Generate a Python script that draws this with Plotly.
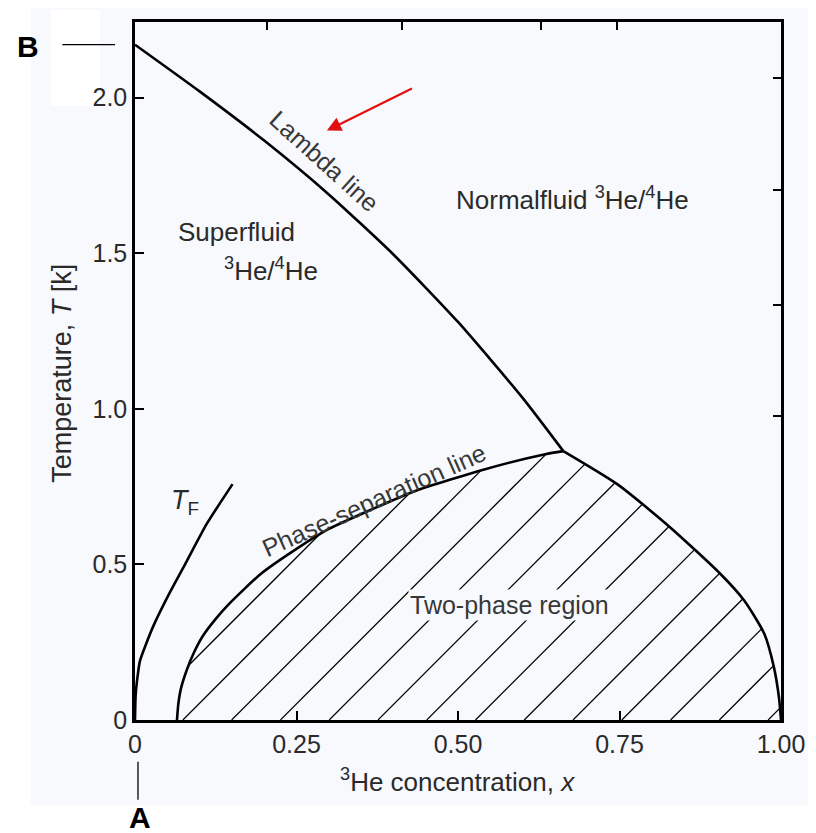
import numpy as np
import plotly.graph_objects as go

# ---------------- data ----------------
lambda_x = [0.0, 0.1, 0.2, 0.3, 0.4, 0.5, 0.6, 0.663]
lambda_T = [2.17, 2.020, 1.862, 1.689, 1.496, 1.279, 1.035, 0.864]

sep_left_x = [0.065, 0.067, 0.071, 0.080, 0.092, 0.105, 0.125, 0.146, 0.195, 0.25, 0.30, 0.37, 0.434, 0.542, 0.635, 0.663]
sep_left_T = [0.0, 0.05, 0.10, 0.16, 0.22, 0.27, 0.325, 0.374, 0.47, 0.55, 0.614, 0.68, 0.736, 0.806, 0.854, 0.864]

sep_right_x = [0.663, 0.747, 0.829, 0.906, 0.943, 0.974, 0.989, 0.997, 1.0]
sep_right_T = [0.864, 0.757, 0.618, 0.47, 0.384, 0.278, 0.17, 0.07, 0.0]

tf_x = [0.0, 0.001, 0.004, 0.0077, 0.028, 0.054, 0.08, 0.111, 0.151]
tf_T = [0.0, 0.08, 0.14, 0.19, 0.30, 0.41, 0.51, 0.63, 0.758]

x_tickvals = [0, 0.25, 0.5, 0.75, 1.0]
x_ticktext = ["0", "0.25", "0.50", "0.75", "1.00"]
y_tickvals = [0, 0.5, 1.0, 1.5, 2.0]
y_ticktext = ["0", "0.5", "1.0", "1.5", "2.0"]
top_tickvals = [0.205, 0.414, 0.629, 0.746]
right_tickvals = [2.064, 1.702, 1.334, 0.976]

# ---------------- layout geometry ----------------
OFF = 8                      # browser body margin
W, H = 816 - OFF, 833 - OFF
SX0, SX1 = 135, 784          # screen x of plot left / right
SY0, SY1 = 720, 19           # screen y of plot bottom / top
ML, MR = SX0 - OFF, W - (SX1 - OFF)
MT, MB = SY1 - OFF, H - (SY0 - OFF)
plot_w = SX1 - SX0
plot_h = SY0 - SY1
x_range = [0.0, 1.0]
y_range = [0.0, 2.243]

def px(sx):   # screen x -> paper x
    return (sx - SX0) / plot_w

def py(sy):   # screen y -> paper y
    return (SY0 - sy) / plot_h

# hatch: 45-degree lines in screen space
hatch_slope = (plot_w / (x_range[1] - x_range[0])) / (plot_h / (y_range[1] - y_range[0]))
hatch_start = 0.074
hatch_step = 0.0755
top_x = np.array(sep_left_x + sep_right_x[1:])
top_T = np.array(sep_left_T + sep_right_T[1:])
hx, hy = [], []
xs = np.linspace(top_x.min(), 1.0, 4000)
Ttop = np.interp(xs, top_x, top_T)
for k in range(-1, 13):
    x0 = hatch_start + k * hatch_step
    Tl = hatch_slope * (xs - x0)
    inside = (Tl >= 0) & (Tl <= Ttop)
    if inside.sum() < 2:
        continue
    idx = np.where(inside)[0]
    a, b = idx[0], idx[-1]
    hx += [xs[a], xs[b], None]
    hy += [Tl[a], Tl[b], None]

BG = "#F7F9FD"
FONT = "Liberation Sans"
TXT = "#2a2a2a"
LBL = "#383838"

fig = go.Figure()
fig.add_trace(go.Scatter(x=hx, y=hy, mode="lines", line=dict(color="black", width=1.3),
                         hoverinfo="skip", showlegend=False))
for xx, yy in [(lambda_x, lambda_T), (sep_left_x, sep_left_T), (sep_right_x, sep_right_T), (tf_x, tf_T)]:
    fig.add_trace(go.Scatter(x=xx, y=yy, mode="lines",
                             line=dict(color="black", width=2.6, shape="spline", smoothing=0.6),
                             showlegend=False))
# dummy trace so the top/right tick axes are drawn
fig.add_trace(go.Scatter(x=[None], y=[None], xaxis="x2", yaxis="y2", showlegend=False))

ann = []
def add_text(x, y, text, size=26, angle=0, color=TXT, bg=None, xref="x", yref="y", **kw):
    d = dict(x=x, y=y, xref=xref, yref=yref, text=text, showarrow=False, textangle=angle,
             xanchor="center", yanchor="middle",
             font=dict(family=FONT, size=size, color=color))
    if bg:
        d["bgcolor"] = bg
    d.update(kw)
    ann.append(d)

add_text(0.293, 1.795, "Lambda line", size=25, angle=42, color=LBL)
add_text(0.678, 1.675, "Normalfluid <sup>3</sup>He/<sup>4</sup>He", size=26)
add_text(0.157, 1.568, "Superfluid", size=26)
add_text(0.211, 1.447, "<sup>3</sup>He/<sup>4</sup>He", size=26)
add_text(0.078, 0.70, "<i>T</i><sub>F</sub>", size=27)
add_text(0.37, 0.707, "Phase-separation line", size=25, angle=-24, color=LBL)
add_text(0.579, 0.368, "Two-phase region", size=25, color=LBL, bg=BG, borderpad=1)

# axis titles
add_text(px(459), py(781), "<sup>3</sup>He concentration, <i>x</i>", size=26, xref="paper", yref="paper")
add_text(px(62), py(372), "Temperature, <i>T</i> [k]", size=27, angle=-90, xref="paper", yref="paper")

# A and B markers
add_text(px(28), lambda_T[0], "<b>B</b>", size=30, color="black", xref="paper", yref="y", yshift=-2)
add_text(px(140), py(818), "<b>A</b>", size=30, color="black", xref="paper", yref="paper")

# red arrow
ann.append(dict(x=0.297, y=1.894, ax=0.431, ay=2.032, xref="x", yref="y", axref="x", ayref="y",
                showarrow=True, arrowhead=2, arrowsize=1.3, arrowwidth=2.2, arrowcolor="#e01010", text=""))

shapes = [
    dict(type="rect", xref="paper", yref="paper", x0=px(30), x1=px(816),
         y0=py(805), y1=py(3), fillcolor=BG, line=dict(width=0), layer="below"),
    dict(type="rect", xref="paper", yref="paper", x0=px(50), x1=px(100),
         y0=py(103), y1=py(7), fillcolor="white", line=dict(width=0), layer="below"),
    dict(type="line", xref="paper", yref="y", x0=px(62), x1=px(115),
         y0=lambda_T[0], y1=lambda_T[0], line=dict(color="black", width=1.3)),
    dict(type="line", xref="paper", yref="paper", x0=px(138), x1=px(138),
         y0=py(762), y1=py(800), line=dict(color="black", width=1.3)),
]

axis_common = dict(showline=True, linecolor="black", linewidth=2.5, mirror=True,
                   ticks="inside", ticklen=9, tickwidth=2, tickcolor="black",
                   showgrid=False, zeroline=False,
                   tickfont=dict(family=FONT, size=25, color=TXT))

fig.update_layout(
    width=W, height=H,
    margin=dict(l=ML, r=MR, t=MT, b=MB, pad=0),
    paper_bgcolor="white", plot_bgcolor=BG,
    xaxis=dict(range=x_range, tickvals=x_tickvals, ticktext=x_ticktext, **axis_common),
    yaxis=dict(range=y_range, tickvals=y_tickvals, ticktext=y_ticktext, **axis_common),
    xaxis2=dict(overlaying="x", side="top", range=x_range, tickvals=top_tickvals,
                showticklabels=False, ticks="inside", ticklen=8, tickwidth=2, tickcolor="black",
                showgrid=False, zeroline=False, showline=False),
    yaxis2=dict(overlaying="y", side="right", range=y_range, tickvals=right_tickvals,
                showticklabels=False, ticks="inside", ticklen=8, tickwidth=1.5, tickcolor="black",
                showgrid=False, zeroline=False, showline=False),
    annotations=ann, shapes=shapes, showlegend=False,
)

fig.write_html("out.html")
